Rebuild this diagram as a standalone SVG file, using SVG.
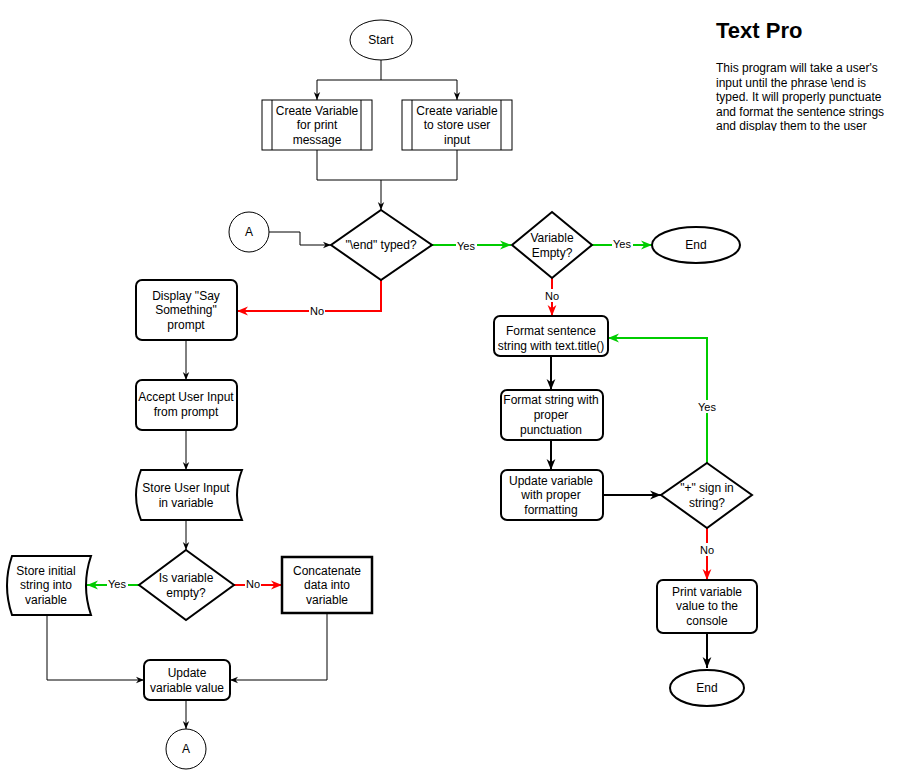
<svg xmlns="http://www.w3.org/2000/svg" width="902" height="771" viewBox="0 0 902 771">
<defs>
<style>
text{font-family:"Liberation Sans",Arial,sans-serif;font-size:12px;fill:#000;text-anchor:middle}
.n{fill:#fff;stroke:#000;stroke-width:2}
.t{fill:#fff;stroke:#000;stroke-width:1}
.c{fill:none;stroke:#000;stroke-width:1}
.c2{fill:none;stroke:#000;stroke-width:2}
.g{fill:none;stroke:#00CC00;stroke-width:2}
.r{fill:none;stroke:#FF0000;stroke-width:2}
.lbl{font-size:11px}
.lb{fill:#fff;stroke:none}
.p{text-anchor:start;font-size:12px}
</style>
<marker id="ak" viewBox="0 0 10 10" refX="10" refY="5" markerWidth="8" markerHeight="8" markerUnits="userSpaceOnUse" orient="auto"><path d="M0,1 L10,5 L0,9 L3,5 Z" fill="#000"/></marker>
<marker id="ak2" viewBox="0 0 10 10" refX="10" refY="5" markerWidth="11" markerHeight="11" markerUnits="userSpaceOnUse" orient="auto"><path d="M0,1 L10,5 L0,9 L3,5 Z" fill="#000"/></marker>
<marker id="ag" viewBox="0 0 10 10" refX="10" refY="5" markerWidth="11" markerHeight="11" markerUnits="userSpaceOnUse" orient="auto"><path d="M0,1 L10,5 L0,9 L3,5 Z" fill="#00CC00"/></marker>
<marker id="ar" viewBox="0 0 10 10" refX="10" refY="5" markerWidth="11" markerHeight="11" markerUnits="userSpaceOnUse" orient="auto"><path d="M0,1 L10,5 L0,9 L3,5 Z" fill="#FF0000"/></marker>
<clipPath id="clipDesc"><rect x="700" y="55" width="200" height="76"/></clipPath>
</defs>
<rect width="902" height="771" fill="#fff"/>

<g id="connectors">
<path class="c" d="M381,60 V80 H317 V100" marker-end="url(#ak)"/>
<path class="c" d="M381,80 H457 V100" marker-end="url(#ak)"/>
<path class="c" d="M317,150 V180 H457 V150"/>
<path class="c" d="M381,180 V210" marker-end="url(#ak)"/>
<path class="c" d="M269,232 H300 V245 H331" marker-end="url(#ak)"/>
<path class="g" d="M432,245 H511" marker-end="url(#ag)"/>
<path class="g" d="M592,245 H652" marker-end="url(#ag)"/>
<path class="r" d="M552,278 V316" marker-end="url(#ar)"/>
<path class="r" d="M381,280 V311 H237" marker-end="url(#ar)"/>
<path class="c" d="M186,340 V380" marker-end="url(#ak)"/>
<path class="c" d="M186,430 V470" marker-end="url(#ak)"/>
<path class="c" d="M186,520 V550" marker-end="url(#ak)"/>
<path class="g" d="M139,585 H87" marker-end="url(#ag)"/>
<path class="r" d="M234,585 H282" marker-end="url(#ar)"/>
<path class="c" d="M47,616 V680 H144" marker-end="url(#ak)"/>
<path class="c" d="M327,613 V680 H230" marker-end="url(#ak)"/>
<path class="c" d="M186,700 V729" marker-end="url(#ak)"/>
<path class="c2" d="M551,356 V390" marker-end="url(#ak2)"/>
<path class="c2" d="M551,440 V470" marker-end="url(#ak2)"/>
<path class="c2" d="M603,495 H661" marker-end="url(#ak2)"/>
<path class="g" d="M707,463 V338 H608" marker-end="url(#ag)"/>
<path class="r" d="M707,528 V580" marker-end="url(#ar)"/>
<path class="c2" d="M707,633 V668" marker-end="url(#ak2)"/>
<rect class="lb" x="456" y="239" width="21" height="13"/><text class="lbl" x="466" y="250">Yes</text>
<rect class="lb" x="612" y="238" width="21" height="13"/><text class="lbl" x="622" y="248">Yes</text>
<rect class="lb" x="545" y="289" width="15" height="13"/><text class="lbl" x="552" y="300">No</text>
<rect class="lb" x="309" y="305" width="16" height="13"/><text class="lbl" x="317" y="315">No</text>
<rect class="lb" x="107" y="578" width="21" height="13"/><text class="lbl" x="117" y="588">Yes</text>
<rect class="lb" x="245" y="578" width="16" height="13"/><text class="lbl" x="253" y="588">No</text>
<rect class="lb" x="696" y="400" width="21" height="13"/><text class="lbl" x="707" y="411">Yes</text>
<rect class="lb" x="700" y="543" width="15" height="13"/><text class="lbl" x="707" y="554">No</text>
</g>

<g id="start"><ellipse class="t" cx="381" cy="40" rx="31" ry="20"/><text x="381" y="44">Start</text></g>
<g id="create-print">
<rect class="t" x="262" y="100" width="110" height="50"/><path class="c" d="M272,100 V150 M361,100 V150"/>
<text x="317" y="115">Create Variable</text><text x="317" y="129">for print</text><text x="317" y="144">message</text></g>
<g id="create-input">
<rect class="t" x="402" y="100" width="110" height="50"/><path class="c" d="M412,100 V150 M501,100 V150"/>
<text x="457" y="115">Create variable</text><text x="457" y="129">to store user</text><text x="457" y="144">input</text></g>
<g id="a-top"><circle class="t" cx="249" cy="232" r="20"/><text x="249" y="236">A</text></g>
<g id="end-typed"><path class="n" d="M381,210 L432,245 L381,280 L331,245 Z"/><text x="381" y="249">"\end" typed?</text></g>
<g id="var-empty"><path class="n" d="M552,212 L592,245 L552,278 L512,245 Z"/><text x="552" y="242">Variable</text><text x="552" y="257">Empty?</text></g>
<g id="end1"><ellipse class="n" cx="696" cy="245" rx="44" ry="18"/><text x="696" y="249">End</text></g>
<g id="display"><rect class="n" x="136" y="280" width="101" height="60" rx="6"/><text x="186" y="300">Display "Say</text><text x="186" y="314">Something"</text><text x="186" y="329">prompt</text></g>
<g id="accept"><rect class="n" x="136" y="380" width="101" height="50" rx="6"/><text x="186" y="401">Accept User Input</text><text x="186" y="416">from prompt</text></g>
<g id="store-input"><path class="n" d="M141,470 H242 Q232,495 242,520 H141 Q131,495 141,470 Z"/><text x="186" y="492">Store User Input</text><text x="186" y="507">in variable</text></g>
<g id="is-empty"><path class="n" d="M186,550 L234,585 L186,620 L139,585 Z"/><text x="186" y="582">Is variable</text><text x="186" y="597">empty?</text></g>
<g id="store-initial"><path class="n" d="M12,556 H91 Q81,585.5 91,615 H12 Q2,585.5 12,556 Z"/><text x="46" y="575">Store initial</text><text x="46" y="589">string into</text><text x="46" y="604">variable</text></g>
<g id="concat"><rect class="n" x="282" y="557" width="90" height="56" style="stroke-width:2.5"/><text x="327" y="575">Concatenate</text><text x="327" y="589">data into</text><text x="327" y="604">variable</text></g>
<g id="update-value"><rect class="n" x="144" y="660" width="86" height="40" rx="6"/><text x="187" y="677">Update</text><text x="187" y="692">variable value</text></g>
<g id="a-bottom"><circle class="t" cx="186" cy="749" r="20"/><text x="186" y="753">A</text></g>
<g id="format-title"><rect class="n" x="494" y="316" width="114" height="40" rx="6"/><text x="551" y="335">Format sentence</text><text x="551" y="350">string with text.title()</text></g>
<g id="format-punct"><rect class="n" x="501" y="390" width="102" height="50" rx="6"/><text x="551" y="404">Format string with</text><text x="551" y="419">proper</text><text x="551" y="434">punctuation</text></g>
<g id="update-format"><rect class="n" x="501" y="470" width="102" height="50" rx="6"/><text x="551" y="485">Update variable</text><text x="551" y="499">with proper</text><text x="551" y="514">formatting</text></g>
<g id="plus-sign"><path class="n" d="M707,463 L752,495 L707,528 L661,495 Z"/><text x="707" y="492">"+" sign in</text><text x="707" y="507">string?</text></g>
<g id="print"><rect class="n" x="657" y="580" width="100" height="53" rx="6"/><text x="707" y="596">Print variable</text><text x="707" y="610">value to the</text><text x="707" y="625">console</text></g>
<g id="end2"><ellipse class="n" cx="707" cy="688" rx="37" ry="18"/><text x="707" y="692">End</text></g>

<g id="title">
<text x="716" y="38" style="font-size:22px;font-weight:bold;text-anchor:start">Text Pro</text>
<g clip-path="url(#clipDesc)">
<text class="p" x="716" y="72">This program will take a user's</text>
<text class="p" x="716" y="86.5">input until the phrase \end is</text>
<text class="p" x="716" y="101">typed. It will properly punctuate</text>
<text class="p" x="716" y="115.5">and format the sentence strings</text>
<text class="p" x="716" y="130">and display them to the user</text>
</g>
</g>
</svg>
